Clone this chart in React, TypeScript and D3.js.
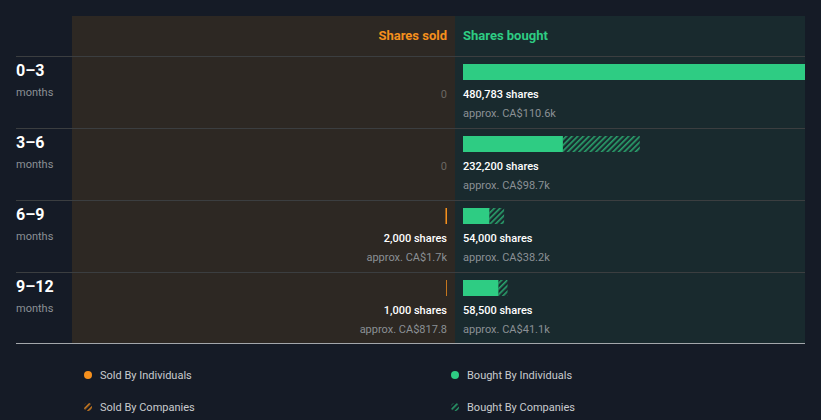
import React from "react";
import * as d3 from "d3";

const periods = ["0–3", "3–6", "6–9", "9–12"];
const boughtIndividuals = [480783, 131200, 34600, 46500];
const boughtCompanies = [0, 101000, 19400, 12000];
const boughtTotalLabels = ["480,783 shares", "232,200 shares", "54,000 shares", "58,500 shares"];
const boughtValueLabels = ["approx. CA$110.6k", "approx. CA$98.7k", "approx. CA$38.2k", "approx. CA$41.1k"];
const soldIndividuals = [0, 0, 2000, 1000];
const soldCompanies = [0, 0, 0, 0];
const soldTotalLabels = ["0", "0", "2,000 shares", "1,000 shares"];
const soldValueLabels = ["", "", "approx. CA$1.7k", "approx. CA$817.8"];
const legendItems = [
  { label: "Sold By Individuals", side: "sold", hatch: false },
  { label: "Sold By Companies", side: "sold", hatch: true },
  { label: "Bought By Individuals", side: "bought", hatch: false },
  { label: "Bought By Companies", side: "bought", hatch: true },
];

const W = 821;
const H = 420;
const BG = "#151b26";
const SOLD_BG = "#2d2823";
const BOUGHT_BG = "#192a2e";
const GREEN = "#2ecc83";
const ORANGE = "#f5901d";
const FONT = "Roboto, 'Open Sans', sans-serif";

export default function App() {
  const panelL = 72;
  const mid = 455;
  const panelR = 805;
  const top = 16;
  const headerH = 40;
  const rowH = 72;
  const rowsTop = top + headerH;
  const bottom = 343;

  const y = d3.scaleBand<string>().domain(periods).range([rowsTop, rowsTop + rowH * periods.length]).padding(0);
  const maxVal = d3.max(boughtIndividuals.map((v, i) => v + boughtCompanies[i])) as number;
  const len = d3.scaleLinear().domain([0, maxVal]).range([0, 366]);

  const bx0 = mid + 8;
  const sx0 = mid - 8;

  return (
    <svg width={W} height={H} style={{ position: "absolute", left: 0, top: 0, background: BG, fontFamily: FONT }}>
      <defs>
        <pattern id="hatchG" patternUnits="userSpaceOnUse" width="4" height="4" patternTransform="rotate(45)">
          <rect width="1.6" height="4" fill={GREEN} opacity="0.75" />
        </pattern>
        <pattern id="hatchO" patternUnits="userSpaceOnUse" width="4" height="4" patternTransform="rotate(45)">
          <rect width="1.6" height="4" fill={ORANGE} opacity="0.85" />
        </pattern>
        <clipPath id="boughtClip">
          <rect x={mid} y={top} width={panelR - mid} height={bottom - top} />
        </clipPath>
        <clipPath id="soldClip">
          <rect x={panelL} y={top} width={mid - panelL} height={bottom - top} />
        </clipPath>
      </defs>
      <rect x={0} y={0} width={W} height={H} fill={BG} />
      <rect x={panelL} y={top} width={mid - panelL} height={bottom - top} fill={SOLD_BG} />
      <rect x={mid} y={top} width={panelR - mid} height={bottom - top} fill={BOUGHT_BG} />

      <text x={sx0} y={top + 24} textAnchor="end" fill={ORANGE} fontSize={13} fontWeight={700}>Shares sold</text>
      <text x={bx0} y={top + 24} fill={GREEN} fontSize={13} fontWeight={700}>Shares bought</text>

      {periods.map((p, i) => {
        const ry = y(p) as number;
        const bi = len(boughtIndividuals[i]);
        const bc = len(boughtCompanies[i]);
        const si = len(soldIndividuals[i]);
        const sc = len(soldCompanies[i]);
        return (
          <g key={p}>
            <line x1={16} x2={panelR} y1={ry + 0.5} y2={ry + 0.5} stroke="#3b3e40" strokeWidth={1} />
            <text x={16} y={ry + 20} fill="#ffffff" fontSize={16} fontWeight={700}>{p}</text>
            <text x={16} y={ry + 40} fill="#8b9095" fontSize={11}>months</text>
            <g clipPath="url(#boughtClip)">
              {bi > 0 && <rect x={bx0} y={ry + 8} width={bi} height={16} fill={GREEN} />}
              {bc > 0 && <rect x={bx0 + bi} y={ry + 8} width={bc} height={16} fill="url(#hatchG)" />}
            </g>
            <g clipPath="url(#soldClip)">
              {si > 0 && <rect x={sx0 - si} y={ry + 8} width={si} height={16} fill={ORANGE} />}
              {sc > 0 && <rect x={sx0 - si - sc} y={ry + 8} width={sc} height={16} fill="url(#hatchO)" />}
            </g>
            <text x={bx0} y={ry + 42} fill="#ffffff" fontSize={11} fontWeight={500}>{boughtTotalLabels[i]}</text>
            <text x={bx0} y={ry + 61} fill="#8b9095" fontSize={11}>{boughtValueLabels[i]}</text>
            {soldTotalLabels[i] === "0" ? (
              <text x={sx0} y={ry + 42} textAnchor="end" fill="#6b6762" fontSize={11}>0</text>
            ) : (
              <text x={sx0} y={ry + 42} textAnchor="end" fill="#ffffff" fontSize={11} fontWeight={500}>{soldTotalLabels[i]}</text>
            )}
            {soldValueLabels[i] && (
              <text x={sx0} y={ry + 61} textAnchor="end" fill="#8b9095" fontSize={11}>{soldValueLabels[i]}</text>
            )}
          </g>
        );
      })}
      <line x1={16} x2={panelR} y1={bottom + 0.5} y2={bottom + 0.5} stroke="#a3a7ab" strokeWidth={1} />

      {legendItems.map((it, i) => {
        const lx = it.side === "sold" ? 88 : 455;
        const ly = it.hatch ? 407 : 375;
        const color = it.side === "sold" ? ORANGE : GREEN;
        const pat = it.side === "sold" ? "url(#hatchO)" : "url(#hatchG)";
        return (
          <g key={it.label}>
            <circle cx={lx} cy={ly} r={4} fill={it.hatch ? pat : color} />
            <text x={lx + 12} y={ly + 4} fill="#c9cbce" fontSize={11}>{it.label}</text>
          </g>
        );
      })}
    </svg>
  );
}
